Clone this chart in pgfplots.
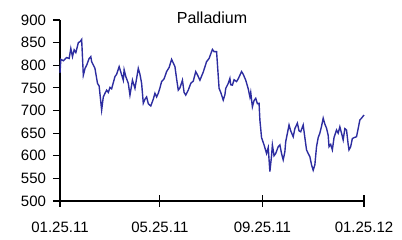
\documentclass[border=0pt]{standalone}
\usepackage{pgfplots}
\pgfplotsset{compat=1.18}
\usepackage{fontspec}
\setmainfont{Liberation Sans}
\definecolor{pline}{RGB}{45,45,160}
\begin{document}
\fontsize{14.5bp}{16bp}\selectfont
\begin{tikzpicture}
\useasboundingbox (-60bp,-39bp) rectangle (342bp,201bp);
\begin{axis}[
  scale only axis, width=304bp, height=181bp,
  at={(0,0)}, anchor=south west,
  xmin=0, xmax=365, ymin=500, ymax=900,
  axis x line*=bottom, axis y line*=left,
  axis line style={-, line width=1.1pt},
  tick style={black, line width=1.1pt},
  y tick style={black, line width=1.1pt},
  xtick=\empty,
  extra x ticks={0,120,243,365},
  extra x tick labels={01.25.11,05.25.11,09.25.11,01.25.12},
  extra x tick style={major tick length=12bp, tick align=center, xticklabel style={yshift=-10bp}},
  ytick={500,550,600,650,700,750,800,850,900},
  major tick length=7bp,
  ytick align=outside, ytick pos=left,
  yticklabel style={anchor=east, xshift=-2bp},
  /pgf/number format/assume math mode=true,
  tick label style={font=\fontsize{15bp}{17bp}\selectfont},
  title={Palladium},
  title style={at={(0.5,1)}, anchor=base, yshift=-9bp, font=\fontsize{16bp}{18bp}\selectfont},
  clip=false,
]
\addplot[color=pline, line width=1.4pt] coordinates {
(0,783)(1,813)(4,810)(8,817)(11,815)(13,837)(15,819)(17,834)(19,828)(22,850)
(24,852)(26,857)(28,778)(29,785)(30,793)(32,800)(35,815)(37,819)(38,808)(42,793)
(45,760)(47,754)(50,701)(52,730)(54,738)(56,745)(58,740)(60,751)(62,748)(66,775)
(68,780)(71,797)(73,785)(76,767)(77,790)(79,775)(82,760)(84,734)(87,767)(90,749)
(94,793)(96,780)(98,760)(100,716)(102,725)(104,730)(106,715)(109,710)(112,725)(114,738)
(116,730)(118,738)(120,750)(122,764)(125,770)(128,786)(131,795)(134,813)(136,805)(138,797)
(140,770)(142,745)(144,750)(147,767)(149,740)(151,734)(154,745)(157,760)(160,765)(163,786)
(166,775)(168,767)(172,785)(176,808)(179,815)(183,835)(185,830)(188,830)(191,749)(193,740)
(196,723)(198,735)(199,749)(202,760)(204,771)(205,757)(207,756)(209,768)(212,764)(214,770)
(216,778)(218,786)(220,780)(223,767)(226,748)(228,730)(229,740)(231,708)(233,722)(235,727)
(237,715)(239,716)(240,679)(242,640)(245,624)(248,605)(250,618)(252,565)(254,600)(255,624)
(257,600)(259,605)(262,620)(264,624)(266,605)(268,591)(270,609)(271,631)(275,668)(277,655)
(280,642)(282,660)(285,672)(287,655)(289,653)(292,668)(294,640)(296,613)(298,605)(300,598)
(302,580)(304,568)(306,580)(308,620)(310,640)(312,650)(314,665)(316,683)(318,670)(320,661)
(322,645)(323,620)(325,625)(327,613)(329,640)(332,657)(334,650)(336,664)(338,650)(340,635)
(342,660)(344,657)(346,625)(347,613)(349,620)(351,638)(353,640)(356,642)(358,660)(360,679)
(362,683)(365,690)
};
\end{axis}
\end{tikzpicture}
\end{document}
